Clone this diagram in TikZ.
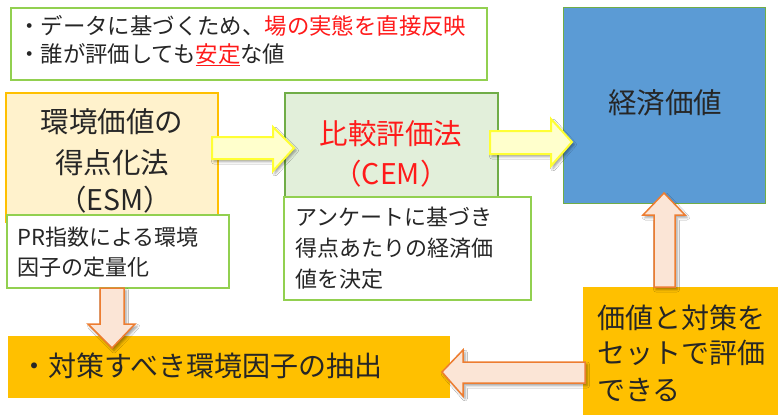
\documentclass[tikz,border=0pt]{standalone}
\usepackage{fontspec}
\setmainfont{Noto Sans CJK JP}
\usetikzlibrary{shadows.blur}
\definecolor{lgreen}{HTML}{92D050}
\definecolor{dgreen}{HTML}{70AD47}
\definecolor{esmfill}{HTML}{FFF2CC}
\definecolor{esmline}{HTML}{FFC000}
\definecolor{cemfill}{HTML}{E2EFDA}
\definecolor{bluefill}{HTML}{5B9BD5}
\definecolor{orangefill}{HTML}{FFC000}
\definecolor{yarrfill}{HTML}{FFFFCC}
\definecolor{yarrline}{HTML}{FFFF33}
\definecolor{oarrfill}{HTML}{FBE5D6}
\definecolor{oarrline}{HTML}{ED7D31}
\definecolor{txt}{HTML}{262626}
\definecolor{redtxt}{HTML}{FF1A1A}
\tikzset{
  box/.style={anchor=north west, inner sep=0pt, outer sep=0pt},
  ln/.style={inner sep=0pt, text=txt, anchor=base},
  lnw/.style={inner sep=0pt, text=txt, anchor=base west},
  yarr/.style={fill=yarrfill, draw=yarrline, line width=2pt, line join=miter,
    blur shadow={shadow xshift=2pt, shadow yshift=-2.5pt, shadow blur radius=2.5pt, shadow opacity=40}},
  oarr/.style={fill=oarrfill, draw=oarrline, line width=1.5pt, line join=miter,
    blur shadow={shadow xshift=2pt, shadow yshift=-2.5pt, shadow blur radius=2.5pt, shadow opacity=40}},
}
\begin{document}
\begin{tikzpicture}[x=1pt,y=-1pt]
\useasboundingbox (0,0) rectangle (778,415);
\fill[white] (0,0) rectangle (778,415);

% top box
\node[box, draw=lgreen, line width=2pt, fill=white, minimum width=476pt, minimum height=72pt] (top) at (11,8) {};
\node[lnw, font=\fontsize{22.4}{28}\selectfont] (t1) at (18,34) {・データに基づくため、\textcolor{redtxt}{場の実態を直接反映}};
\node[lnw, font=\fontsize{22.4}{28}\selectfont] (t2) at (18,62) {・誰が評価しても{\color{redtxt}\underline{安定}}な値};

% ESM box
\node[box, draw=esmline, line width=1.5pt, fill=esmfill, minimum width=212pt, minimum height=129pt] (esm) at (6,93) {};
\node[ln, font=\fontsize{28.5}{34}\selectfont] (e1) at (112,132.4) {環境価値の};
\node[ln, font=\fontsize{28.5}{34}\selectfont] (e2) at (112,173) {得点化法};
\node[ln, font=\fontsize{28.5}{34}\selectfont] (e3) at (115,210.4) {（ESM）};

% PR box
\node[box, draw=lgreen, line width=2pt, fill=white, minimum width=222pt, minimum height=73pt] (pr) at (7,215) {};
\node[lnw, font=\fontsize{22}{28}\selectfont] (p1) at (17,245.8) {PR指数による環境};
\node[lnw, font=\fontsize{22}{28}\selectfont] (p2) at (17,275.8) {因子の定量化};

% CEM box
\node[box, draw=dgreen, line width=1.5pt, fill=cemfill, minimum width=213pt, minimum height=104pt] (cem) at (285,93) {};
\node[ln, text=redtxt, font=\fontsize{28.5}{34}\selectfont] (c1) at (391,144.4) {比較評価法};
\node[ln, text=redtxt, font=\fontsize{28.5}{34}\selectfont] (c2) at (391,184.4) {（CEM）};

% CEM description
\node[box, draw=lgreen, line width=2pt, fill=white, minimum width=247pt, minimum height=103pt] (desc) at (284,197) {};
\node[lnw, font=\fontsize{22}{28}\selectfont] (d1) at (295,225.8) {アンケートに基づき};
\node[lnw, font=\fontsize{22}{28}\selectfont] (d2) at (295,256.8) {得点あたりの経済価};
\node[lnw, font=\fontsize{22}{28}\selectfont] (d3) at (295,287.8) {値を決定};

% economic value
\node[box, draw=dgreen, line width=1pt, fill=bluefill, minimum width=202pt, minimum height=196pt] (eco) at (563,7) {};
\node[ln, font=\fontsize{28.5}{34}\selectfont] (ecot) at (665,113.4) {経済価値};

% right orange box
\node[box, fill=orangefill, minimum width=195pt, minimum height=128pt] (set) at (583,287) {};
\node[lnw, font=\fontsize{28}{34}\selectfont] (s1) at (597,328.2) {価値と対策を};
\node[lnw, font=\fontsize{28}{34}\selectfont] (s2) at (597,363.5) {セットで評価};
\node[lnw, font=\fontsize{28}{34}\selectfont] (s3) at (597,400.5) {できる};

% bottom orange box
\node[box, fill=orangefill, minimum width=442pt, minimum height=62pt] (ext) at (8,336) {};
\node[lnw, font=\fontsize{28}{34}\selectfont] (x1) at (20,376.5) {・対策すべき環境因子の抽出};

% block arrows
\path[yarr] (212,137) -- (273,137) -- (273,127) -- (294,148) -- (273,171) -- (273,159) -- (212,159) -- cycle;
\path[yarr] (490,131) -- (551,131) -- (551,119) -- (572,142) -- (551,166) -- (551,154) -- (490,154) -- cycle;
\path[oarr] (100,288) -- (124,288) -- (124,324) -- (135,324) -- (112,348) -- (88,324) -- (100,324) -- cycle;
\path[oarr] (654,287) -- (654,215) -- (643,215) -- (664,193) -- (685,215) -- (675,215) -- (675,287) -- cycle;
\path[oarr] (585,362) -- (463,362) -- (463,350) -- (442,372) -- (463,396) -- (463,383) -- (585,383) -- cycle;
\end{tikzpicture}
\end{document}
